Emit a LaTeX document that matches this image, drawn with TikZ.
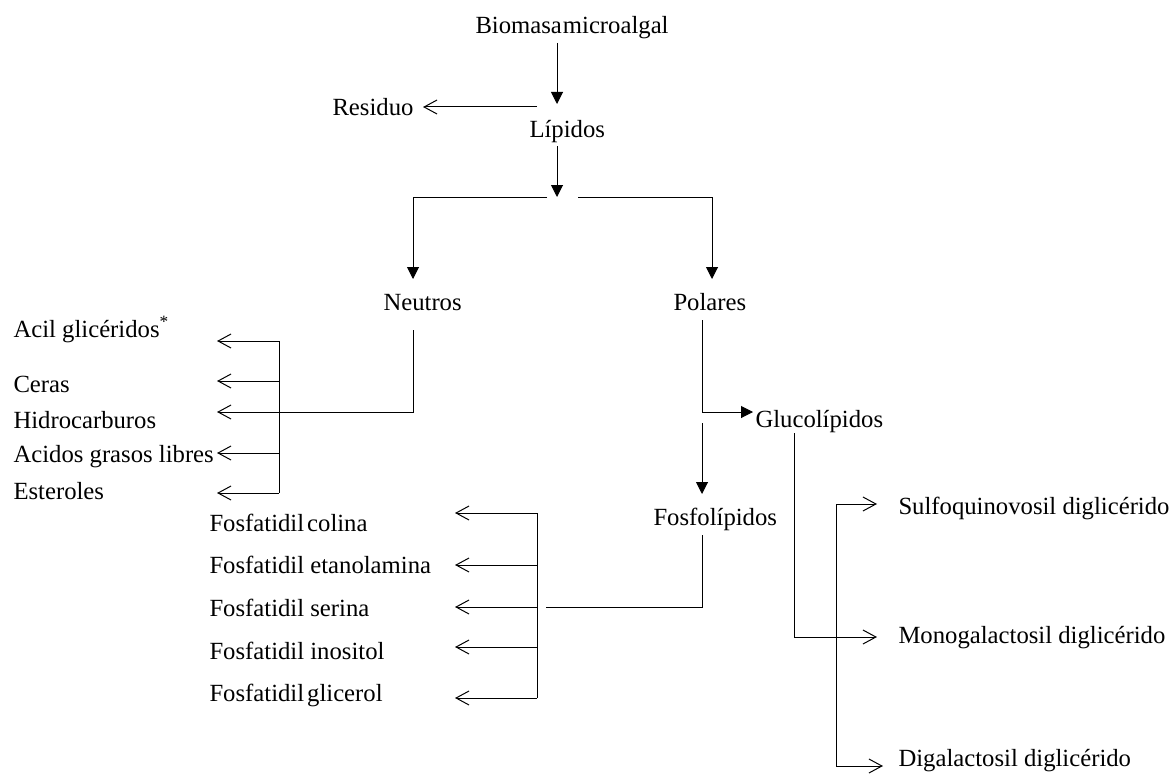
\documentclass[tikz,border=0pt]{standalone}
\usepackage{fontspec}
\setmainfont{Liberation Serif}
\usetikzlibrary{arrows.meta}
\tikzset{
  lbl/.style={anchor=base west, inner sep=0pt, font=\fontsize{24.7}{30}\selectfont},
  flow/.style={-{Triangle[length=12pt,width=12pt]}},
  branch/.style={-{Straight Barb[length=13pt,width=14pt]}},
  twoway/.style={{Straight Barb[length=13pt,width=14pt]}-{Straight Barb[length=13pt,width=14pt]}},
}
\begin{document}
\begin{tikzpicture}[x=1pt,y=-1pt,line width=1pt]
\useasboundingbox (0,0) rectangle (1174,773);
% main chain
\node[lbl] (bio) at (475,34) {Biomasa\kern1pt microalgal};
\node[lbl] (res) at (332,116) {Residuo};
\node[lbl] (lip) at (529,137) {Lípidos};
\node[lbl] (neu) at (383,310) {Neutros};
\node[lbl] (pol) at (673,310) {Polares};
\node[lbl] (glu) at (755,427) {Glucolípidos};
\node[lbl] (fos) at (653,525) {Fosfolípidos};
% lists
\foreach \t/\y [count=\i] in {Acil glicéridos\textsuperscript{*}/337, Ceras/392, Hidrocarburos/428,
    Acidos grasos libres/462, Esteroles/499}
  \node[lbl] (neu\i) at (13,\y) {\t};
\foreach \t/\y [count=\i] in {Fosfatidil\kern3pt colina/531, Fosfatidil etanolamina/573,
    Fosfatidil serina/616, Fosfatidil inositol/659, Fosfatidil\kern3pt glicerol/701}
  \node[lbl] (fos\i) at (209,\y) {\t};
\foreach \t/\y [count=\i] in {Sulfoquinovosil diglicérido/514, Monogalactosil diglicérido/643,
    Digalactosil diglicérido/766}
  \node[lbl] (glu\i) at (898,\y) {\t};
% connector ends
\coordinate (bioOut) at (557,43);
\coordinate (lipIn) at (557,104);
\coordinate (resFork) at (537,107);
\coordinate (resIn) at (423,107);
\coordinate (lipOut) at (557,146);
\coordinate (split) at (557,197);
\coordinate (splitL) at (547,197);
\coordinate (splitR) at (578,197);
\coordinate (neuIn) at (413,279);
\coordinate (polIn) at (712,279);
\coordinate (neuOut) at (413,330);
\coordinate (polOut) at (702,320);
\coordinate (gluIn) at (753,412);
\coordinate (fosTop) at (702,423);
\coordinate (fosIn) at (702,494);
\coordinate (fosOut) at (702,535);
\coordinate (fosEnd) at (546,607);
\coordinate (gluOut) at (794,433);
\coordinate (monoIn) at (877,637);
\coordinate (sulIn) at (877,504);
\coordinate (digIn) at (883,766);
\coordinate (brN) at (279,341);
\coordinate (brF) at (537,513);
\coordinate (brG) at (836,504);
\foreach \y [count=\i] in {341,381,412,453,493} \coordinate (nt\i) at (217,\y);
\foreach \y [count=\i] in {513,565,607,647,698} \coordinate (ft\i) at (455,\y);
% arrows
\draw[flow] (bioOut) -- (lipIn);
\draw[branch] (resFork) -- (resIn);
\draw[flow] (lipOut) -- (split);
\draw[flow] (splitL) -| (neuIn);
\draw[flow] (splitR) -| (polIn);
\draw[flow] (polOut) |- (gluIn);
\draw[flow] (fosTop) -- (fosIn);
% neutros
\draw (brN) -- (brN |- nt5);
\foreach \i in {1,2,4,5} \draw[branch] (brN |- nt\i) -- (nt\i);
\draw[branch] (neuOut) |- (nt3);
% fosfolipidos
\draw (brF) -- (brF |- ft5);
\foreach \i in {1,...,5} \draw[branch] (brF |- ft\i) -- (ft\i);
\draw (fosOut) |- (fosEnd);
% glucolipidos
\draw[branch] (gluOut) |- (monoIn);
\draw[twoway] (sulIn) -- (brG) -- (brG |- digIn) -- (digIn);
\end{tikzpicture}
\end{document}
